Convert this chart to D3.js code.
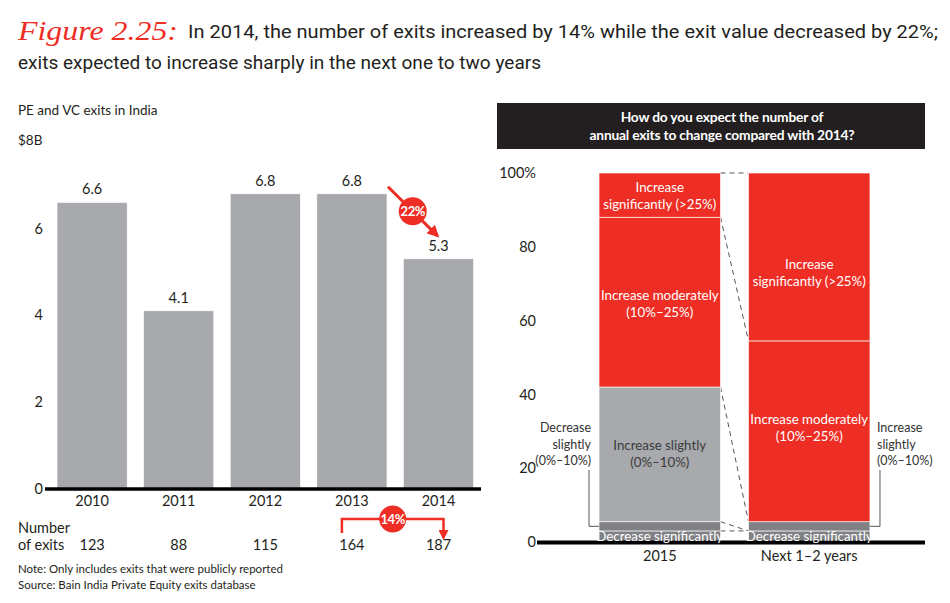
<!DOCTYPE html>
<html>
<head>
<meta charset="utf-8">
<script src="https://cdn.jsdelivr.net/npm/d3@7"></script>
<style>
  html, body { margin: 0; padding: 0; background: #fff; }
  svg { display: block; font-family: Lato, "Open Sans", sans-serif; }
</style>
</head>
<body>
<svg id="chart" width="950" height="603"></svg>
<script>
// ---------- data ----------
const years = ["2010", "2011", "2012", "2013", "2014"];
const exitValues = [6.6, 4.1, 6.8, 6.8, 5.3];
const exitCounts = [123, 88, 115, 164, 187];
const valueTicks = [0, 2, 4, 6];
const valueChangeLabel = "22%";
const countChangeLabel = "14%";

const surveyCategories = ["2015", "Next 1–2 years"];
const segmentKeys = ["decSig", "decSlight", "incSlight", "incMod", "incSig"];
const share2015 = [3, 2.5, 36.5, 46, 12];
const shareNext = [3, 0, 2.5, 49, 45.5];
const percentTicks = [0, 20, 40, 60, 80, 100];

// label texts and the value (percent) they sit at
const segmentLabels2015 = [
  { key: "incSig", at: 94, lines: ["Increase", "significantly (>25%)"], dark: false },
  { key: "incMod", at: 64.5, lines: ["Increase moderately", "(10%–25%)"], dark: false },
  { key: "incSlight", at: 24, lines: ["Increase slightly", "(0%–10%)"], dark: true },
  { key: "decSig", at: 1.6, lines: ["Decrease significantly"], dark: false }
];
const segmentLabelsNext = [
  { key: "incSig", at: 73, lines: ["Increase", "significantly (>25%)"], dark: false },
  { key: "incMod", at: 31, lines: ["Increase moderately", "(10%–25%)"], dark: false },
  { key: "decSig", at: 1.6, lines: ["Decrease significantly"], dark: false }
];

// ---------- setup ----------
const svg = d3.select("#chart");
const RED = "#ee2d24";
const GRAY = "#a7a9ac";
const DARKGRAY = "#808184";
const TEXT = "#231f20";

// ---------- title ----------
svg.append("text").attr("x", 18).attr("y", 40)
  .attr("font-family", "'Liberation Serif', 'DejaVu Serif', serif")
  .attr("font-style", "italic").attr("font-size", 27).attr("fill", RED)
  .attr("textLength", 160).attr("lengthAdjust", "spacingAndGlyphs")
  .text("Figure 2.25:");
svg.append("text").attr("x", 188).attr("y", 38)
  .attr("font-family", "Roboto, sans-serif").attr("font-size", 19).attr("fill", TEXT)
  .attr("textLength", 750).attr("lengthAdjust", "spacingAndGlyphs")
  .text("In 2014, the number of exits increased by 14% while the exit value decreased by 22%;");
svg.append("text").attr("x", 18).attr("y", 69)
  .attr("font-family", "Roboto, sans-serif").attr("font-size", 19).attr("fill", TEXT)
  .attr("textLength", 523).attr("lengthAdjust", "spacingAndGlyphs")
  .text("exits expected to increase sharply in the next one to two years");

// ---------- left chart ----------
svg.append("text").attr("x", 18).attr("y", 115).attr("font-size", 13.5).attr("fill", TEXT)
  .text("PE and VC exits in India");
svg.append("text").attr("x", 18).attr("y", 145).attr("font-size", 13.5).attr("fill", TEXT)
  .text("$8B");

const x = d3.scaleBand().domain(years).range([48.8, 481.8])
  .paddingInner(0.19).paddingOuter(0.095);
const y = d3.scaleLinear().domain([0, 8]).range([488.5, 141.8]);

const left = svg.append("g");
left.selectAll("rect.bar").data(years).join("rect")
  .attr("class", "bar")
  .attr("x", d => x(d)).attr("width", x.bandwidth())
  .attr("y", (d, i) => y(exitValues[i]))
  .attr("height", (d, i) => y(0) - y(exitValues[i]))
  .attr("fill", GRAY).attr("stroke", "#fff").attr("stroke-width", 0.6);

left.selectAll("text.val").data(years).join("text")
  .attr("class", "val")
  .attr("x", d => x(d) + x.bandwidth() / 2)
  .attr("y", (d, i) => y(exitValues[i]) - 8)
  .attr("text-anchor", "middle").attr("font-size", 14.5).attr("fill", TEXT)
  .text((d, i) => d3.format(".1f")(exitValues[i]));

const yAxis = d3.axisLeft(y).tickValues(valueTicks).tickSize(0).tickPadding(0);
const gy = svg.append("g").attr("transform", "translate(43,0)").call(yAxis);
gy.select(".domain").remove();
gy.selectAll("text").attr("font-size", 14.5).attr("fill", TEXT).attr("font-family", "Lato, sans-serif");

const xAxis = d3.axisBottom(x).tickSize(0).tickPadding(7);
const gx = svg.append("g").attr("transform", `translate(0,${y(0)})`).call(xAxis);
gx.select(".domain").remove();
gx.selectAll("text").attr("font-size", 14.5).attr("fill", TEXT).attr("font-family", "Lato, sans-serif");

svg.append("line").attr("x1", 45).attr("x2", 481).attr("y1", y(0) + 0.5).attr("y2", y(0) + 0.5)
  .attr("stroke", "#000").attr("stroke-width", 3.5);

// number of exits row
svg.append("text").attr("x", 18).attr("y", 533).attr("font-size", 14.5).attr("fill", TEXT).text("Number");
svg.append("text").attr("x", 18).attr("y", 550).attr("font-size", 14.5).attr("fill", TEXT).text("of exits");
svg.selectAll("text.cnt").data(years).join("text")
  .attr("class", "cnt")
  .attr("x", d => x(d) + x.bandwidth() / 2).attr("y", 550)
  .attr("text-anchor", "middle").attr("font-size", 14.5).attr("fill", TEXT)
  .text((d, i) => exitCounts[i]);

// notes
svg.append("text").attr("x", 18).attr("y", 573).attr("font-size", 11.5).attr("fill", TEXT)
  .text("Note: Only includes exits that were publicly reported");
svg.append("text").attr("x", 18).attr("y", 589).attr("font-size", 11.5).attr("fill", TEXT)
  .text("Source: Bain India Private Equity exits database");

// arrow marker
const defs = svg.append("defs");
defs.append("marker").attr("id", "arr").attr("viewBox", "0 0 10 10")
  .attr("refX", 8).attr("refY", 5).attr("markerWidth", 4).attr("markerHeight", 4)
  .attr("orient", "auto")
  .append("path").attr("d", "M0,0 L10,5 L0,10 z").attr("fill", RED);

// 22% arrow between 2013 and 2014 values
const ax1 = x("2013") + x.bandwidth() + 1, ay1 = y(exitValues[3]) - 7;
const ax2 = x("2014") + x.bandwidth() / 2 - 1, ay2 = y(exitValues[4]) - 23;
svg.append("line").attr("x1", ax1).attr("y1", ay1).attr("x2", ax2).attr("y2", ay2)
  .attr("stroke", RED).attr("stroke-width", 3).attr("marker-end", "url(#arr)");
svg.append("circle").attr("cx", (ax1 + ax2) / 2).attr("cy", (ay1 + ay2) / 2).attr("r", 14).attr("fill", RED);
svg.append("text").attr("x", (ax1 + ax2) / 2).attr("y", (ay1 + ay2) / 2 + 4.5)
  .attr("text-anchor", "middle").attr("font-size", 13).attr("font-weight", "bold")
  .attr("fill", "#fff").attr("letter-spacing", -0.5).text(valueChangeLabel);

// 14% bracket between 2013 and 2014 counts
const bx1 = x("2013") + x.bandwidth() / 2 - 10, bx2 = x("2014") + x.bandwidth() / 2 + 5;
const by = 519;
svg.append("path").attr("d", `M${bx1},533 V${by} H${bx2} V538`)
  .attr("fill", "none").attr("stroke", RED).attr("stroke-width", 2.5).attr("marker-end", "url(#arr)");
svg.append("circle").attr("cx", (bx1 + bx2) / 2).attr("cy", by).attr("r", 13.5).attr("fill", RED);
svg.append("text").attr("x", (bx1 + bx2) / 2).attr("y", by + 4.5)
  .attr("text-anchor", "middle").attr("font-size", 13).attr("font-weight", "bold")
  .attr("fill", "#fff").attr("letter-spacing", -0.5).text(countChangeLabel);

// ---------- right chart ----------
svg.append("rect").attr("x", 497).attr("y", 103).attr("width", 428).attr("height", 46).attr("fill", "#231f20");
svg.append("text").attr("x", 722).attr("y", 122).attr("text-anchor", "middle")
  .attr("font-size", 13.8).attr("font-weight", "bold").attr("fill", "#fff").attr("letter-spacing", -0.2)
  .text("How do you expect the number of");
svg.append("text").attr("x", 722).attr("y", 140).attr("text-anchor", "middle")
  .attr("font-size", 13.8).attr("font-weight", "bold").attr("fill", "#fff").attr("letter-spacing", -0.2)
  .text("annual exits to change compared with 2014?");

const xr = d3.scaleBand().domain(surveyCategories).range([540, 929])
  .paddingInner(0.187).paddingOuter(0.395);
const yr = d3.scaleLinear().domain([0, 100]).range([542, 173]);

const rows = [share2015, shareNext].map((vals, i) => {
  const o = { cat: surveyCategories[i] };
  segmentKeys.forEach((k, j) => o[k] = vals[j]);
  return o;
});
const stack = d3.stack().keys(segmentKeys)(rows);
const colorOf = d3.scaleOrdinal().domain(segmentKeys).range([DARKGRAY, DARKGRAY, GRAY, RED, RED]);

const segs = [];
stack.forEach(layer => layer.forEach(p => segs.push({ key: layer.key, cat: p.data.cat, y0: p[0], y1: p[1] })));

// dashed connectors between matching category tops
const catA = surveyCategories[0], catB = surveyCategories[1];
segmentKeys.forEach(k => {
  const a = segs.find(s => s.key === k && s.cat === catA);
  const b = segs.find(s => s.key === k && s.cat === catB);
  svg.append("line")
    .attr("x1", xr(catA) + xr.bandwidth()).attr("y1", yr(a.y1))
    .attr("x2", xr(catB)).attr("y2", yr(b.y1))
    .attr("stroke", "#555").attr("stroke-width", 1).attr("stroke-dasharray", "5,4");
});

svg.append("g").selectAll("rect").data(segs.filter(s => s.y1 > s.y0)).join("rect")
  .attr("x", d => xr(d.cat)).attr("width", xr.bandwidth())
  .attr("y", d => yr(d.y1)).attr("height", d => yr(d.y0) - yr(d.y1))
  .attr("fill", d => (d.y1 - d.y0) < 3 ? DARKGRAY : colorOf(d.key))
  .attr("stroke", "#fff").attr("stroke-opacity", 0.8).attr("stroke-width", 0.8);

// axis
const yrAxis = d3.axisLeft(yr).tickValues(percentTicks).tickSize(0).tickPadding(0)
  .tickFormat(d => d === 100 ? "100%" : d);
const gyr = svg.append("g").attr("transform", "translate(536,0)").call(yrAxis);
gyr.select(".domain").remove();
gyr.selectAll("text").attr("font-size", 14.5).attr("fill", TEXT).attr("font-family", "Lato, sans-serif");

svg.append("line").attr("x1", 537).attr("x2", 925).attr("y1", yr(0) + 0.5).attr("y2", yr(0) + 0.5)
  .attr("stroke", "#000").attr("stroke-width", 4);

const xrAxis = d3.axisBottom(xr).tickSize(0).tickPadding(9);
const gxr = svg.append("g").attr("transform", `translate(0,${yr(0)})`).call(xrAxis);
gxr.select(".domain").remove();
gxr.selectAll("text").attr("font-size", 14.5).attr("fill", TEXT).attr("font-family", "Lato, sans-serif");

// segment labels
function drawLabels(list, cat) {
  list.forEach(l => {
    const cx = xr(cat) + xr.bandwidth() / 2;
    const cy = yr(l.at);
    const lh = 17;
    const start = cy - (l.lines.length - 1) * lh / 2;
    l.lines.forEach((t, i) => {
      svg.append("text").attr("x", cx).attr("y", start + i * lh + 5)
        .attr("text-anchor", "middle").attr("font-size", 13.3)
        .attr("fill", l.dark ? "#3a3a3c" : "#fff").text(t);
    });
  });
}
drawLabels(segmentLabels2015, catA);
drawLabels(segmentLabelsNext, catB);

// side labels with leaders to the thin slices
const decSlight = segs.find(s => s.key === "decSlight" && s.cat === catA);
const incSlightNext = segs.find(s => s.key === "incSlight" && s.cat === catB);
const ly1 = yr((decSlight.y0 + decSlight.y1) / 2);
const ly2 = yr((incSlightNext.y0 + incSlightNext.y1) / 2);
const lxL = xr(catA) - 10, lxR = xr(catB) + xr.bandwidth() + 10;

svg.append("path").attr("d", `M${lxL},470 V${ly1} H${xr(catA)}`)
  .attr("fill", "none").attr("stroke", "#555").attr("stroke-width", 1);
svg.append("path").attr("d", `M${lxR},470 V${ly2} H${xr(catB) + xr.bandwidth()}`)
  .attr("fill", "none").attr("stroke", "#555").attr("stroke-width", 1);

["Decrease", "slightly", "(0%–10%)"].forEach((t, i) => {
  svg.append("text").attr("x", lxL + 2).attr("y", 432 + i * 16.5).attr("text-anchor", "end")
    .attr("font-size", 12.5).attr("fill", "#333").text(t);
});
["Increase", "slightly", "(0%–10%)"].forEach((t, i) => {
  svg.append("text").attr("x", lxR - 3).attr("y", 432 + i * 16.5).attr("text-anchor", "start")
    .attr("font-size", 12.5).attr("fill", "#333").text(t);
});
</script>
</body>
</html>
